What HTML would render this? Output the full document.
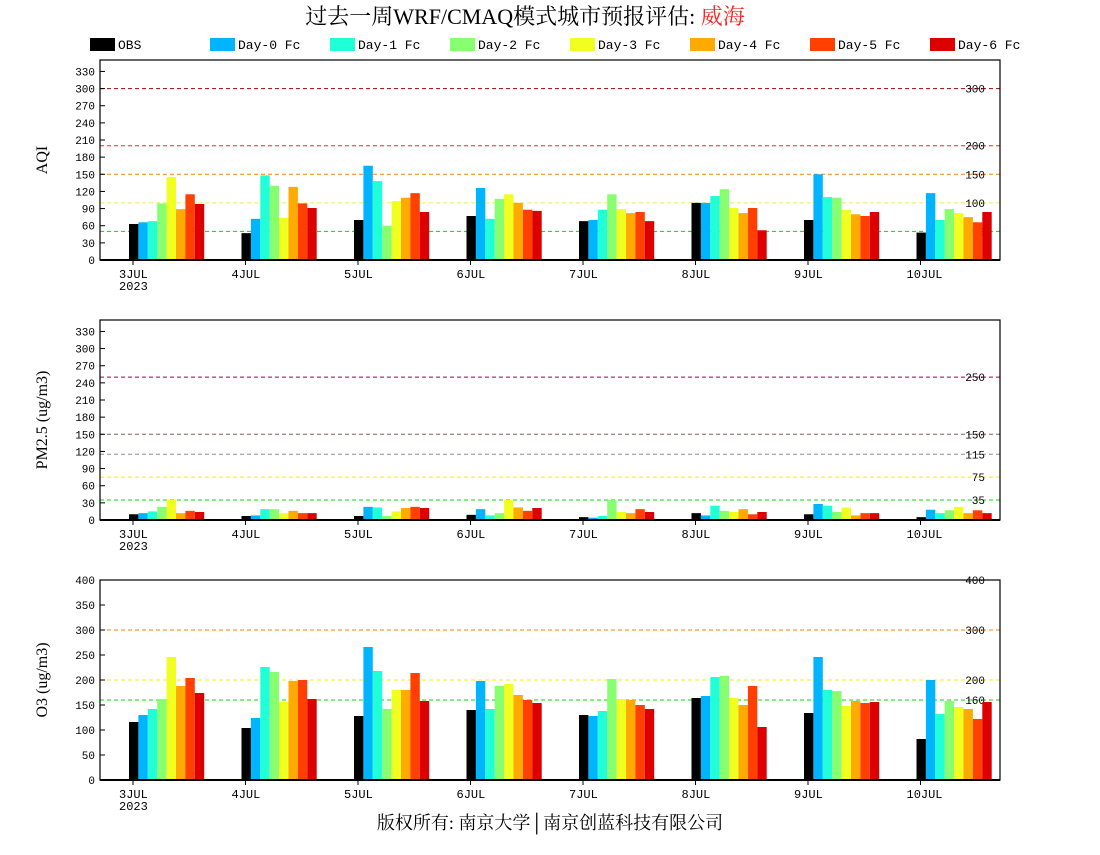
<!DOCTYPE html>
<html><head><meta charset="utf-8"><style>
body{margin:0;background:#fff;width:1100px;height:850px;overflow:hidden}
svg text{font-family:"Liberation Mono","Noto Serif CJK SC",monospace}
</style></head><body>
<svg id="c" width="1100" height="850" xmlns="http://www.w3.org/2000/svg">
<text x="525" y="24" text-anchor="middle" font-size="22" style="font-family:'Liberation Serif','Noto Serif CJK SC',serif">过去一周WRF/CMAQ模式城市预报评估: <tspan fill="#ff2020">威海</tspan></text>
<text x="550" y="829" text-anchor="middle" font-size="18" style="font-family:'Liberation Serif','Noto Serif CJK SC',serif">版权所有: 南京大学│南京创蓝科技有限公司</text>
</svg>
<script>
const days = ["3JUL","4JUL","5JUL","6JUL","7JUL","8JUL","9JUL","10JUL"];
const seriesNames = ["OBS","Day-0 Fc","Day-1 Fc","Day-2 Fc","Day-3 Fc","Day-4 Fc","Day-5 Fc","Day-6 Fc"];
const colors = ["#000000","#00b4ff","#20ffd8","#88ff70","#f0ff20","#ffaa00","#ff4000","#dc0000"];
// values per day: [OBS, D0..D6]
const aqi = [
 [63,66,68,99,145,89,115,98],[47,72,148,130,74,128,99,91],[70,165,138,60,103,109,117,84],[77,126,72,107,115,100,88,86],
 [68,70,88,115,89,82,84,68],[100,100,112,124,91,82,91,52],[70,150,110,109,88,80,77,84],[48,117,70,89,82,75,66,84]];
const pm25 = [
 [10,12,15,23,35,12,16,14],[7,8,19,19,12,16,12,12],[7,23,22,7,15,21,23,21],[9,19,8,12,35,22,16,21],
 [5,4,7,35,14,12,19,14],[12,8,25,16,14,19,10,14],[10,28,25,14,22,8,12,12],[5,18,12,17,23,12,17,12]];
const o3 = [
 [116,130,142,162,246,188,204,174],[104,124,226,216,156,198,200,162],[128,266,218,142,180,180,214,158],[140,198,142,188,192,170,160,154],
 [130,128,138,202,162,160,150,142],[164,168,206,208,164,150,188,106],[134,246,180,178,148,158,154,156],[82,200,132,158,146,142,122,156]];
const aqiTicks = [0,30,60,90,120,150,180,210,240,270,300,330];
const pmTicks = [0,30,60,90,120,150,180,210,240,270,300,330];
const o3Ticks = [0,50,100,150,200,250,300,350,400];
const aqiRefs = [[300,"#a00000","300"],[200,"#ff2020","200"],[150,"#ff8000","150"],[100,"#f0f040","100"],[50,"#00dd00","50"]];
const pmRefs = [[250,"#a00050","250"],[150,"#806060","150"],[115,"#909090","115"],[75,"#f0f000","75"],[35,"#00dd00","35"]];
const o3Refs = [[400,"#ff0000","400"],[300,"#ff8000","300"],[200,"#f0f000","200"],[160,"#00dd00","160"]];

const svg=document.getElementById('c');const NS="http://www.w3.org/2000/svg";
function mk(t,a,p){const e=document.createElementNS(NS,t);for(const k in a)e.setAttribute(k,a[k]);(p||svg).appendChild(e);return e;}

// legend
seriesNames.forEach((n,i)=>{
  const g=mk('g',{});
  
  
  const x=90+i*120;
  mk('rect',{x:x,y:38,width:25,height:13,fill:colors[i]},g);
  const t=mk('text',{x:x+28,y:49,'font-size':13},g);t.textContent=n;
});

function panel(name,top,ymax,ticks,data,refs,ylabel){
  const L=100,R=1000,B=top+200,H=200;
  const g=mk('g',{});
  
  
  const y=v=>B-v/ymax*H;
  const xDay=i=>L+33+112.5*i;
  refs.forEach(r=>{
    const l=mk('line',{x1:L,x2:R,y1:y(r[0]),y2:y(r[0]),stroke:r[1],'stroke-dasharray':'4,3','stroke-width':1},g);
    
    
    const t=mk('text',{x:985,y:y(r[0])+4,'font-size':11,'text-anchor':'end'},g);t.textContent=r[2];
    
    
  });
  data.forEach((d,i)=>{
    d.forEach((v,j)=>{
      const b=mk('rect',{x:xDay(i)-4+j*9.4,y:y(v),width:9.4,height:B-y(v),fill:colors[j]},g);
      
      
    });
  });
  mk('rect',{x:L,y:top,width:R-L,height:H,fill:'none',stroke:'#000','stroke-width':1.2},g);
  mk('line',{x1:L,x2:R,y1:B,y2:B,stroke:'#000','stroke-width':2},g);
  ticks.forEach(v=>{
    mk('line',{x1:L,x2:L+5,y1:y(v),y2:y(v),stroke:'#000'},g);
    const t=mk('text',{x:L-5,y:y(v)+4,'font-size':11,'text-anchor':'end'},g);t.textContent=v;
    
    
  });
  days.forEach((dn,i)=>{
    mk('line',{x1:xDay(i),x2:xDay(i),y1:B,y2:B+5,stroke:'#000'},g);
    const t=mk('text',{x:xDay(i)-14,y:B+18,'font-size':12},g);t.textContent=dn;
    
    
  });
  const yr=mk('text',{x:xDay(0)-14,y:B+30,'font-size':12},g);yr.textContent='2023';
  const yl=mk('text',{x:0,y:0,'font-size':16,'text-anchor':'middle',transform:`translate(47,${top+100}) rotate(-90)`,style:"font-family:'Liberation Serif',serif"},g);
  yl.textContent=ylabel;
  
  
}
panel('aqi',60,350,aqiTicks,aqi,aqiRefs,'AQI');
panel('pm25',320,350,pmTicks,pm25,pmRefs,'PM2.5 (ug/m3)');
panel('o3',580,400,o3Ticks,o3,o3Refs,'O3 (ug/m3)');
</script>
</body></html>
